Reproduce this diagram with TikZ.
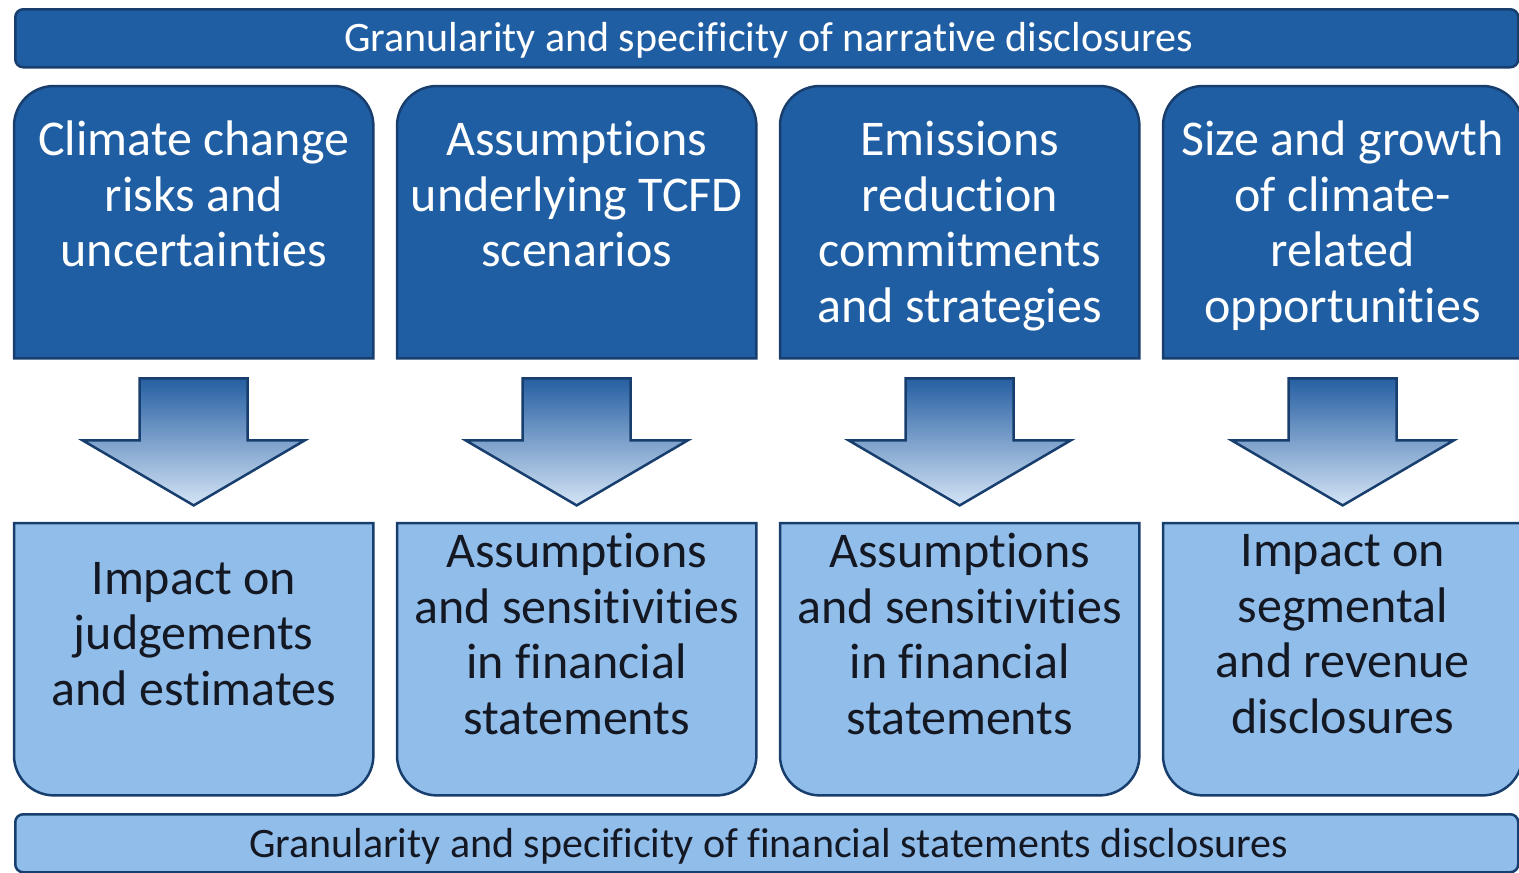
\documentclass[tikz,border=0pt]{standalone}
\usepackage{fontspec}
\setmainfont{Carlito}[Ligatures={NoCommon,NoRequired,NoContextual}]
\usetikzlibrary{calc}
\definecolor{dkblue}{RGB}{32,94,163}
\definecolor{edgeblue}{RGB}{24,62,110}
\definecolor{ltblue}{RGB}{145,189,234}
\definecolor{arrtop}{RGB}{38,95,162}
\definecolor{arrbot}{RGB}{212,228,246}
\definecolor{txtdark}{RGB}{20,24,35}
\tikzset{
  bar/.style={draw=edgeblue, line width=2.5pt, rounded corners=8pt, minimum width=1503pt, minimum height=58pt, anchor=north west, inner sep=0pt, font=\fontsize{42}{48}\selectfont},
  bartext/.style={inner sep=0pt, font=\fontsize{42}{48}\selectfont},
  boxarea/.style={draw=none, minimum width=359pt, minimum height=272pt, anchor=north west, inner sep=0pt},
  topshape/.style={draw=edgeblue, line width=2.5pt, fill=dkblue},
  botshape/.style={draw=edgeblue, line width=2.5pt, fill=ltblue},
  boxtext/.style={align=center, inner sep=0pt, font=\fontsize{50}{55.5}\selectfont},
  blockarrow/.style={draw=edgeblue, line width=2.5pt, top color=arrtop, bottom color=arrbot, line join=miter},
}
\begin{document}
\begin{tikzpicture}[x=1pt,y=-1pt]
\useasboundingbox (0,0) rectangle (1519,873);
\clip (0,0) rectangle (1519,873);
% bars
\node[bar, fill=dkblue] (topbar) at (14,8) {};
\node[bar, fill=ltblue] (botbar) at (14,813) {};
\node[bartext, text=white] (toptext) at ($(topbar.center)+(2,2)$) {Granularity and specificity of narrative disclosures};
\node[bartext, text=txtdark] (bottext) at ($(botbar.center)+(2,3)$) {Granularity and specificity of financial statements disclosures};
% box areas
\foreach \i/\x in {1/14,2/397,3/780,4/1163}{
  \node[boxarea] (b\i) at (\x,86) {};
  \node[boxarea] (c\i) at (\x,523) {};
  \draw[topshape] (b\i.south west) [rounded corners=40pt] -- (b\i.north west) -- (b\i.north east) [sharp corners] -- (b\i.south east) -- cycle;
  \draw[botshape] (c\i.north east) -- (c\i.north west) [rounded corners=40pt] -- (c\i.south west) -- (c\i.south east) [sharp corners] -- cycle;
  \coordinate (a\i) at ($(b\i.south)+(0,20)$);
  \draw[blockarrow] (a\i) ++(-54,0) -- ++(108,0) -- ++(0,62) -- ++(57,0) -- ++(-111,65) -- ++(-111,-65) -- ++(57,0) -- cycle;
}
% texts
\node[boxtext, text=white, anchor=north] (t1) at ($(b1.north)+(0,35)$) {Climate change\\risks and\\uncertainties};
\node[boxtext, text=white, anchor=north] (t2) at ($(b2.north)+(0,35)$) {Assumptions\\underlying TCFD\\scenarios};
\node[boxtext, text=white, anchor=north] (t3) at ($(b3.north)+(0,35)$) {Emissions\\reduction\\commitments\\and strategies};
\node[boxtext, text=white, anchor=north] (t4) at ($(b4.north)+(0,35)$) {Size and growth\\of climate-\\related\\opportunities};
\node[boxtext, text=txtdark] (u1) at ($(c1.north)+(0,111)$) {Impact on\\judgements\\and estimates};
\node[boxtext, text=txtdark] (u2) at ($(c2.north)+(0,111)$) {Assumptions\\and sensitivities\\in financial\\statements};
\node[boxtext, text=txtdark] (u3) at ($(c3.north)+(0,111)$) {Assumptions\\and sensitivities\\in financial\\statements};
\node[boxtext, text=txtdark] (u4) at ($(c4.north)+(0,111)$) {Impact on\\segmental\\and revenue\\disclosures};
\end{tikzpicture}
\end{document}
